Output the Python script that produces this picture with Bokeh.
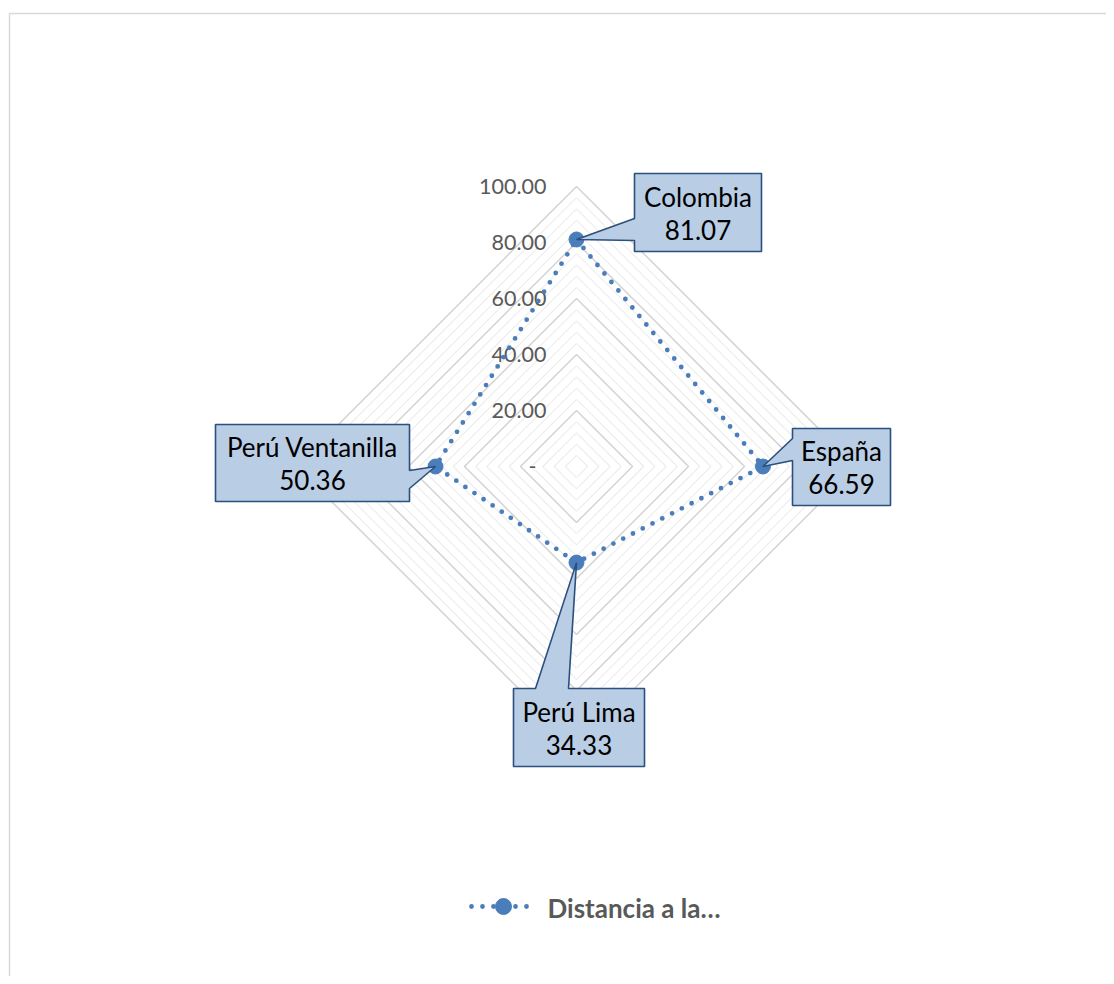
from bokeh.plotting import figure
from bokeh.models import Range1d
from bokeh.core.properties import value
from bokeh.embed import file_html
from bokeh.resources import INLINE
import math

# ---- data ----
categories = ["Colombia", "España", "Perú Lima", "Perú Ventanilla"]
values = [81.07, 66.59, 34.33, 50.36]
tick_values = [0, 20, 40, 60, 80, 100]
tick_labels = ["-", "20.00", "40.00", "60.00", "80.00", "100.00"]
series_name = "Distancia a la…"

# ---- layout (page pixels) ----
W, H = 1106, 976
OX, OY = 0, 0
CX, CY = 576, 466
S = 2.8  # px per unit

def px(x):
    return (x - CX) / S

def py(y):
    return (CY - y) / S

p = figure(width=W, height=H, output_backend="svg", toolbar_location=None,
           x_range=Range1d((OX - CX) / S, (OX + W - CX) / S),
           y_range=Range1d((CY - (OY + H)) / S, (CY - OY) / S),
           min_border=0, outline_line_color=None)
p.axis.visible = False
p.grid.visible = False
p.background_fill_color = "white"

# chart border
p.line([px(9), px(9), px(1200)], [py(1000), py(13), py(13)],
       line_color="#d9d9d9", line_width=1.5)

# angles clockwise from top
angles = [math.pi / 2 - i * 2 * math.pi / len(categories) for i in range(len(categories))]

# grid rings
for r in range(4, 101, 4):
    xs = [r * math.cos(a) for a in angles] + [r * math.cos(angles[0])]
    ys = [r * math.sin(a) for a in angles] + [r * math.sin(angles[0])]
    major = (r % 20 == 0)
    p.line(xs, ys, line_color="#d0d0d0" if major else "#eeeeee",
           line_width=1.4 if major else 1.2)

# tick labels ("-" for zero sits a little left, accounting-style padding)
tick_x = [px(536) if t == 0 else px(546) for t in tick_values]
p.text(x=tick_x, y=tick_values, text=tick_labels,
       text_font=value("Lato"), text_font_size="21.5px", text_color="#595959",
       text_align="right", text_baseline="middle")

# series
sx = [v * math.cos(a) for v, a in zip(values, angles)]
sy = [v * math.sin(a) for v, a in zip(values, angles)]
col = "#4a7ebb"
p.line(sx + [sx[0]], sy + [sy[0]], line_color=col, line_width=4.8,
       line_dash="0 11", line_cap="round")
p.scatter(sx, sy, size=15, fill_color=col, line_color=col)

# callouts: box (x0,y0,x1,y1) in page px, wedge side and base
callouts = [
    dict(box=(634, 173, 761, 251), side="left", base=(218, 240)),
    dict(box=(792, 428, 890, 505), side="left", base=(438, 460)),
    dict(box=(513, 688, 644, 766), side="top", base=(535, 568)),
    dict(box=(215, 424, 409, 501), side="right", base=(470, 488)),
]
fill = "#b9cde5"
edge = "#2b4f7e"
for i, c in enumerate(callouts):
    x0, y0, x1, y1 = c["box"]
    b1, b2 = c["base"]
    tx, ty = sx[i], sy[i]
    if c["side"] == "left":
        pts = [(x0, y0), (x1, y0), (x1, y1), (x0, y1), (x0, b2), None, (x0, b1)]
    elif c["side"] == "right":
        pts = [(x0, y0), (x1, y0), (x1, b1), None, (x1, b2), (x1, y1), (x0, y1)]
    else:
        pts = [(x0, y0), (b1, y0), None, (b2, y0), (x1, y0), (x1, y1), (x0, y1)]
    xs = [tx if q is None else px(q[0]) for q in pts]
    ys = [ty if q is None else py(q[1]) for q in pts]
    p.patch(xs, ys, fill_color=fill, line_color=edge, line_width=1.6)
    mx = (x0 + x1) / 2
    my = (y0 + y1) / 2
    p.text(x=[px(mx), px(mx)], y=[py(my - 16), py(my + 17)],
           text=[categories[i], f"{values[i]:.2f}"],
           text_font=value("Lato"), text_font_size="26px", text_color="#000000",
           text_align="center", text_baseline="middle")

# legend
p.line([px(471), px(537)], [py(906), py(906)], line_color=col, line_width=4.8,
       line_dash="0 11", line_cap="round")
p.scatter([px(503)], [py(906)], size=16, fill_color=col, line_color=col)
p.text(x=[px(547)], y=[py(907)], text=[series_name], text_font=value("Lato"),
       text_font_size="26px", text_font_style="bold", text_color="#595959",
       text_align="left", text_baseline="middle")

open("out.html", "w").write(file_html(p, INLINE))
